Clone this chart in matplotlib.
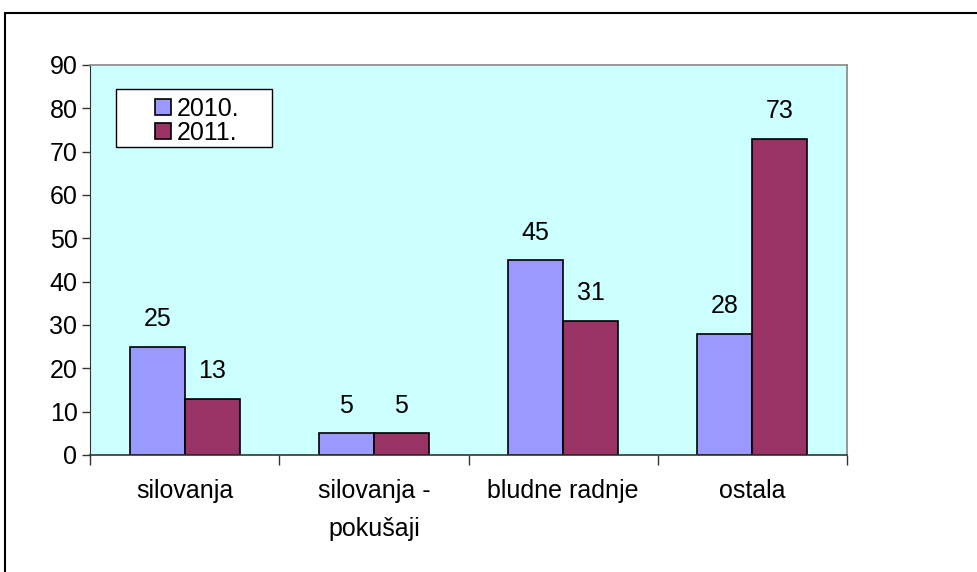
import matplotlib
matplotlib.use("Agg")
import matplotlib.pyplot as plt
import numpy as np
from matplotlib.patches import Rectangle

categories = ["silovanja", "silovanja -\npokušaji", "bludne radnje", "ostala"]
series_names = ["2010.", "2011."]
values_2010 = [25, 5, 45, 28]
values_2011 = [13, 5, 31, 73]
yticks = [0, 10, 20, 30, 40, 50, 60, 70, 80, 90]

plt.rcParams['font.family'] = ['Liberation Sans', 'DejaVu Sans']
FS = 18

fig = plt.figure(figsize=(9.77, 5.72), dpi=100)
AX_L, AX_B, AX_W, AX_H = 90, 117, 757, 390
ax = fig.add_axes([AX_L/977, AX_B/572, AX_W/977, AX_H/572])
ax.set_facecolor('#CCFFFF')

x = np.arange(len(categories))
w = 0.29
b1 = ax.bar(x - w/2, values_2010, w, color='#9999FF', edgecolor='black', linewidth=1.2, label=series_names[0])
b2 = ax.bar(x + w/2, values_2011, w, color='#993366', edgecolor='black', linewidth=1.2, label=series_names[1])

for bars, vals in ((b1, values_2010), (b2, values_2011)):
    for r, v in zip(bars, vals):
        ax.annotate(str(v), (r.get_x() + r.get_width()/2, v), xytext=(0, 11),
                    textcoords='offset points', ha='center', va='bottom', fontsize=FS)

ax.set_xlim(-0.5, len(categories) - 0.5)
ax.set_ylim(0, 90)
ax.set_yticks(yticks)
ax.set_yticklabels([str(t) for t in yticks], fontsize=FS)
ax.set_xticks(np.arange(len(categories) + 1) - 0.5)
ax.set_xticklabels([])
ax.set_xticks(x, minor=True)
labels = ax.set_xticklabels(categories, minor=True, fontsize=FS, va='top')
for t in labels:
    t.set_linespacing(1.75)
ax.tick_params(axis='x', which='minor', length=0, pad=17)
ax.tick_params(axis='x', which='major', length=7, width=1, color='#333333')
ax.tick_params(axis='y', length=6, width=1, color='#333333', pad=3)

for s in ('top', 'right'):
    ax.spines[s].set_color('#888888')
    ax.spines[s].set_linewidth(1.2)
ax.spines['left'].set_color('#333333')
ax.spines['bottom'].set_color('#333333')
ax.spines['bottom'].set_linewidth(1.2)

# legend box (drawn separately for wider horizontal padding)
top_px = 572 - AX_B
ax.add_patch(Rectangle(((116 - AX_L)/AX_W, (top_px - 147)/AX_H),
                       (272 - 116)/AX_W, (147 - 89)/AX_H,
                       transform=ax.transAxes, facecolor='white', edgecolor='black',
                       linewidth=1.0, zorder=4))
leg = ax.legend(loc='upper left', bbox_to_anchor=((155 - AX_L)/AX_W, (top_px - 97)/AX_H),
                fontsize=FS, frameon=False,
                borderpad=0, handlelength=0.64, handleheight=0.62, handletextpad=0.25,
                labelspacing=0.0, borderaxespad=0)
leg.set_zorder(5)

fig.patches.append(Rectangle((5/977, -0.05), 1.1, (572-13)/572 + 0.05,
                             transform=fig.transFigure, fill=False, edgecolor='black',
                             linewidth=1.5))

fig.savefig('out.png', dpi=100)
